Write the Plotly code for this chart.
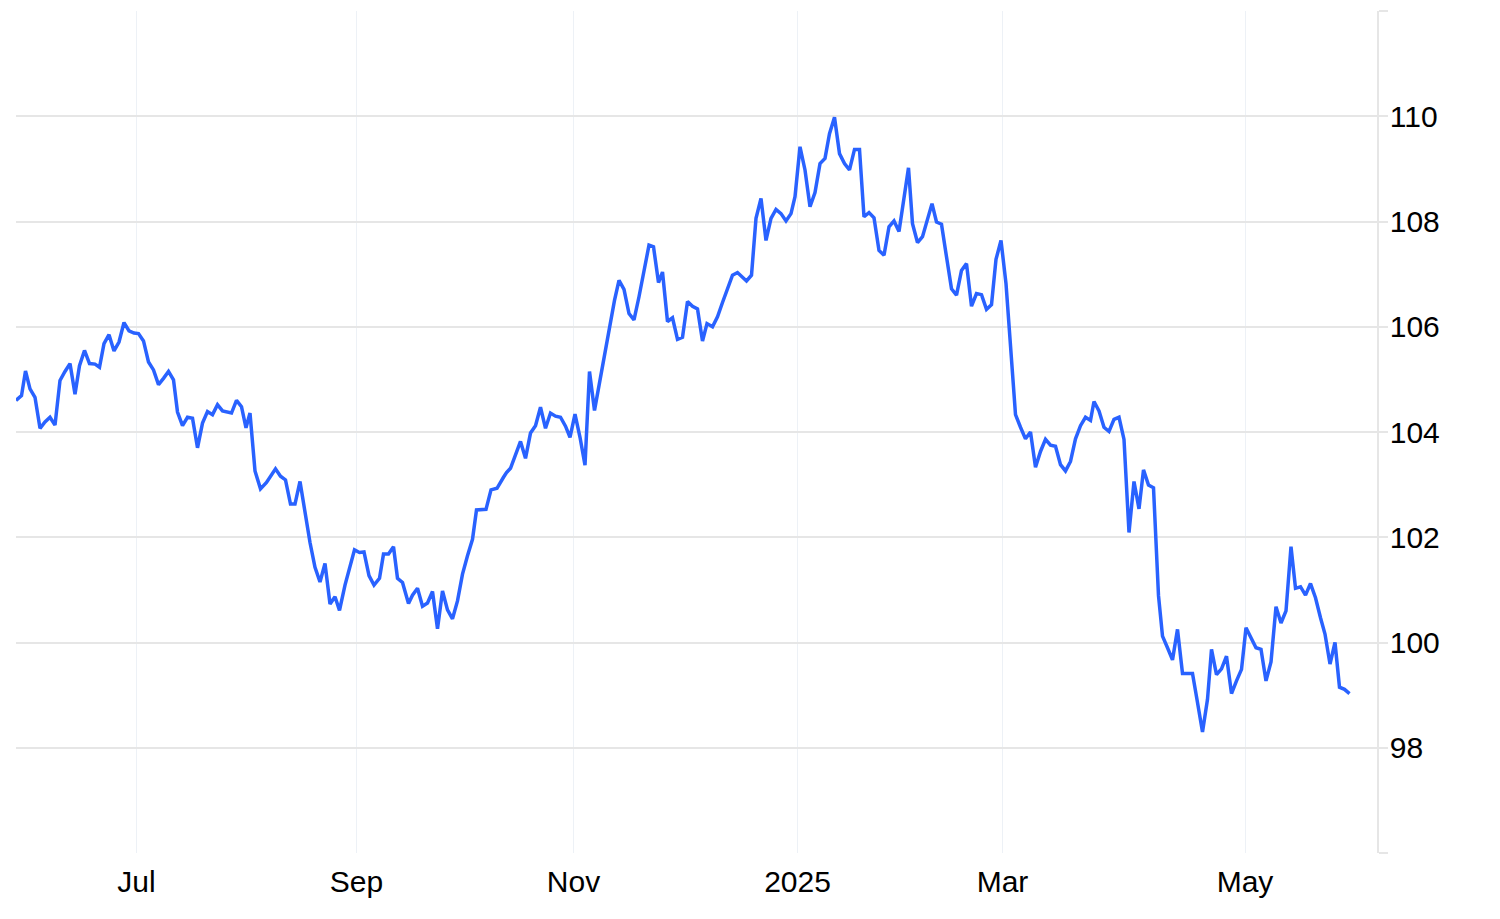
import plotly.graph_objects as go

# trading-session position (x) and index level (y)
session = [0.0, 1.1, 1.9, 2.8, 3.8, 4.8, 5.8, 6.8, 7.8, 8.8, 9.8, 10.8, 11.8, 12.7, 13.7, 14.7, 15.8, 16.7, 17.6, 18.6,
           19.6, 20.6, 21.6, 22.6, 23.6, 24.5, 25.5, 26.5, 27.5, 28.5, 29.5, 30.5, 31.5, 32.3, 33.3, 34.3, 35.3, 36.3,
           37.3, 38.3, 39.3, 40.3, 41.3, 42.3, 43.1, 44.1, 45.1, 46.0, 46.8, 47.8, 48.9, 50.1, 51.9, 52.9, 53.9, 54.9,
           55.8, 56.8, 57.8, 58.8, 59.8, 60.8, 61.8, 62.8, 63.8, 64.7, 65.8, 66.8, 67.7, 68.7, 69.6, 70.6, 71.6, 72.7,
           73.5, 74.5, 75.5, 76.3, 77.3, 78.5, 79.3, 80.3, 81.3, 82.3, 83.3, 84.3, 85.3, 86.3, 87.3, 88.3, 89.3, 90.3,
           91.3, 92.1, 94.0, 95.0, 96.2, 97.5, 98.1, 98.9, 99.9, 100.9, 101.9, 102.9, 103.9, 104.9, 105.9, 106.9,
           107.9, 108.9, 109.9, 110.8, 111.8, 112.8, 113.8, 114.7, 115.7, 116.7, 117.7, 118.7, 119.7, 120.6, 121.6,
           122.6, 123.6, 124.6, 125.6, 126.6, 127.5, 128.5, 129.3, 130.3, 131.3, 132.3, 133.3, 134.3, 135.3, 136.3,
           137.3, 138.2, 139.3, 140.3, 141.3, 142.3, 143.3, 144.3, 145.3, 146.1, 147.1, 148.0, 149.0, 150.0, 151.0,
           152.0, 153.0, 154.0, 155.0, 155.8, 156.8, 157.8, 158.8, 159.8, 160.8, 161.8, 162.7, 163.7, 164.7, 165.7,
           166.7, 167.7, 168.7, 169.6, 170.6, 171.6, 172.6, 173.6, 174.6, 175.6, 176.6, 177.6, 178.5, 179.3, 180.3,
           181.3, 182.3, 183.2, 184.1, 185.1, 186.1, 187.1, 188.1, 189.1, 190.1, 191.1, 192.1, 193.1, 194.1, 195.1,
           196.0, 197.0, 198.0, 198.9, 199.9, 200.9, 201.9, 202.9, 203.9, 204.9, 205.9, 206.9, 207.9, 208.9, 209.9,
           210.9, 211.9, 212.9, 213.9, 214.9, 215.6, 216.6, 217.6, 218.6, 219.6, 220.6, 221.6, 222.6, 223.6, 224.6,
           225.5, 226.5, 227.5, 228.5, 229.3, 230.3, 231.3, 232.3, 233.3, 234.3, 235.3, 236.3, 237.3, 238.3, 239.1,
           240.1, 241.1, 242.1, 243.1, 244.1, 245.1, 246.0, 247.0, 248.0, 249.0, 250.0, 251.0, 252.0, 253.0, 254.0,
           255.0, 255.9, 256.9, 257.9, 258.9, 259.9, 260.9, 261.8, 262.8, 263.8, 264.7, 265.7, 266.7]

close = [104.60, 104.69, 105.16, 104.82, 104.66, 104.07, 104.19, 104.28, 104.13, 104.98, 105.15, 105.30, 104.72,
         105.26, 105.55, 105.30, 105.29, 105.23, 105.68, 105.85, 105.54, 105.71, 106.08, 105.92, 105.88, 105.87,
         105.73, 105.33, 105.18, 104.90, 105.02, 105.15, 104.99, 104.38, 104.12, 104.28, 104.26, 103.70, 104.17,
         104.39, 104.33, 104.52, 104.40, 104.37, 104.36, 104.60, 104.48, 104.08, 104.36, 103.26, 102.92, 103.04,
         103.30, 103.16, 103.09, 102.63, 102.63, 103.06, 102.44, 101.90, 101.43, 101.15, 101.50, 100.73, 100.87,
         100.61, 101.09, 101.46, 101.76, 101.71, 101.72, 101.27, 101.09, 101.22, 101.68, 101.68, 101.82, 101.22,
         101.14, 100.74, 100.90, 101.03, 100.69, 100.75, 100.97, 100.26, 100.98, 100.62, 100.45, 100.79, 101.30,
         101.65, 101.96, 102.52, 102.53, 102.90, 102.93, 103.14, 103.23, 103.31, 103.56, 103.82, 103.50, 103.98,
         104.12, 104.47, 104.07, 104.36, 104.30, 104.28, 104.11, 103.90, 104.34, 103.90, 103.37, 105.15, 104.41,
         104.95, 105.45, 106.00, 106.50, 106.88, 106.71, 106.25, 106.13, 106.57, 107.04, 107.55, 107.52, 106.84,
         107.04, 106.10, 106.17, 105.76, 105.80, 106.48, 106.39, 106.34, 105.73, 106.06, 106.00, 106.19, 106.46,
         106.74, 106.98, 107.03, 106.95, 106.87, 106.98, 108.06, 108.44, 107.64, 108.06, 108.23, 108.15, 108.01,
         108.15, 108.47, 109.42, 108.98, 108.28, 108.55, 109.10, 109.20, 109.67, 109.98, 109.29, 109.10, 108.98,
         109.37, 109.37, 108.09, 108.17, 108.07, 107.45, 107.36, 107.90, 108.01, 107.81, 108.44, 109.02, 107.96,
         107.60, 107.71, 108.06, 108.34, 107.99, 107.95, 107.33, 106.72, 106.60, 107.07, 107.20, 106.39, 106.63,
         106.61, 106.33, 106.42, 107.28, 107.64, 106.82, 105.74, 104.33, 104.09, 103.87, 104.00, 103.33, 103.63,
         103.86, 103.75, 103.73, 103.38, 103.26, 103.44, 103.87, 104.12, 104.28, 104.22, 104.58, 104.40, 104.09,
         104.01, 104.24, 104.28, 103.86, 102.09, 103.06, 102.54, 103.28, 102.99, 102.94, 100.89, 100.12, 99.90,
         99.67, 100.25, 99.41, 99.41, 99.41, 98.86, 98.30, 98.92, 99.87, 99.39, 99.50, 99.74, 99.03, 99.27, 99.49,
         100.28, 100.09, 99.90, 99.87, 99.27, 99.63, 100.68, 100.37, 100.60, 101.82, 101.03, 101.06, 100.90, 101.12,
         100.85, 100.47, 100.16, 99.59, 100.00, 99.15, 99.11, 99.03]

x_tick_pos = [24.1, 68.1, 111.5, 156.3, 197.3, 245.8]
x_tick_text = ["Jul", "Sep", "Nov", "2025", "Mar", "May"]
y_tick_vals = [96, 98, 100, 102, 104, 106, 108, 110, 112]
y_tick_text = ["", "98", "100", "102", "104", "106", "108", "110", ""]

FONT = "Liberation Sans, Arial, Helvetica, sans-serif"
HGRID = "#e6e6e6"
VGRID = "#edf1f6"

fig = go.Figure()
fig.add_trace(go.Scatter(
    x=session, y=close, mode="lines",
    line=dict(color="#2962ff", width=3.5),
    hoverinfo="skip", showlegend=False,
))

# page body has an 8px default margin, so the figure is sized/offset to compensate
fig.update_layout(
    width=1484, height=903, autosize=False,
    margin=dict(l=8, r=115, t=3, b=58, pad=0),
    paper_bgcolor="white", plot_bgcolor="white",
    font=dict(family=FONT, size=30, color="#000000"),
    showlegend=False,
)
fig.update_xaxes(
    range=[0, 272.2], tickmode="array", tickvals=x_tick_pos, ticktext=x_tick_text,
    showgrid=True, gridcolor=VGRID, gridwidth=1,
    showline=False, zeroline=False, ticks="", ticklabelstandoff=8,
    tickfont=dict(family=FONT, size=30, color="#000000"),
)
fig.update_yaxes(
    range=[96, 112], side="right", tickmode="array", tickvals=y_tick_vals, ticktext=y_tick_text,
    showgrid=True, gridcolor=HGRID, gridwidth=1.5,
    showline=True, linecolor=HGRID, linewidth=1.5,
    ticks="outside", ticklen=9, tickcolor=HGRID, tickwidth=1.5,
    zeroline=False, ticklabelstandoff=-4,
    tickfont=dict(family=FONT, size=30, color="#000000"),
)

fig.write_html("out.html")
